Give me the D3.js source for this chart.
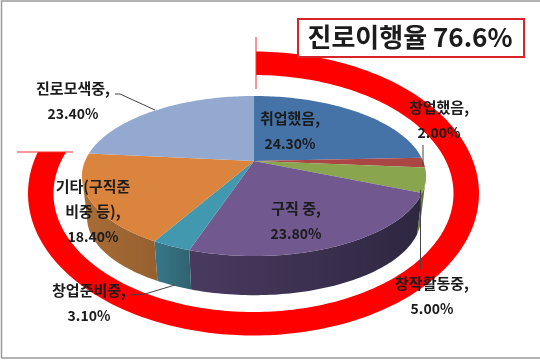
<!DOCTYPE html>
<html>
<head>
<meta charset="utf-8">
<script src="https://cdn.jsdelivr.net/npm/d3@7"></script>
<style>
  html, body { margin: 0; padding: 0; background: #fff; }
  svg { display: block; }
  text { font-family: "Noto Sans CJK KR", "Noto Sans", sans-serif; fill: #1a1a1a; }
</style>
</head>
<body>
<div id="chart"></div>
<script>
const categories = ["취업했음", "창업했음", "창작활동중", "구직 중", "창업준비중", "기타(구직준비중 등)", "진로모색중"];
const values = [24.3, 2.0, 5.0, 23.8, 3.1, 18.4, 23.4];
const topColors = ["#4572a7", "#aa4643", "#89a54e", "#71588f", "#4198af", "#db843d", "#93a9cf"];
const wallLeft = ["#3a5f8c", "#8e3a38", "#6f8a3d", "#4a3a60", "#37788a", "#a86c36", "#7a8dad"];
const wallRight = ["#3a5f8c", "#8e3a38", "#4d6030", "#2e2740", "#30626f", "#96602f", "#7a8dad"];
const rateTitle = "진로이행율 76.6%";

const width = 540, height = 361;
// perspective of the tilted pie, the top face is not centered on its apex
const tilt = 0.1875;
const top3d = {cx: 254, cy: 161, rx: 169, ry: 77.2};
const bottom3d = {cx: 254, cy: 203, rx: 164, ry: 74.9};

function project(face, t) {
    const d = 1 + tilt * Math.cos(t);
    return [face.cx + face.rx * Math.sin(t) / d, face.cy - face.ry * Math.cos(t) / d];
}

function sample(face, a, b) {
    const n = Math.max(2, Math.ceil(Math.abs(b - a) / 0.02));
    return d3.range(n + 1).map(i => project(face, a + (b - a) * i / n));
}

const svg = d3.select("#chart").append("svg").attr("width", width).attr("height", height);
const defs = svg.append("defs");
const line = d3.line();

// the reference is a slightly soft screenshot
defs.append("filter").attr("id", "soft")
    .append("feGaussianBlur").attr("stdDeviation", 0.35);

// frame
svg.append("rect").attr("width", width).attr("height", height).attr("fill", "#fff");
svg.append("path")
    .attr("d", "M1.5,358 V1 H540 M1.5,358 H540")
    .attr("fill", "none").attr("stroke", "#9a9a9a").attr("stroke-width", 1.5);

const arcs = d3.pie().sort(null).value(d => d)(values);

// side walls, only the part that faces the viewer
const wallFrom = Math.PI - Math.acos(tilt);
const wallTo = Math.PI + Math.acos(tilt);
const walls = svg.append("g");
arcs.forEach((d, i) => {
    const a = Math.max(d.startAngle, wallFrom);
    const b = Math.min(d.endAngle, wallTo);
    if (a >= b) return;
    const upper = sample(top3d, a, b);
    const lower = sample(bottom3d, b, a);
    const xs = upper.concat(lower).map(p => p[0]);
    const grad = defs.append("linearGradient")
        .attr("id", "wall" + i)
        .attr("gradientUnits", "userSpaceOnUse")
        .attr("x1", d3.min(xs)).attr("x2", d3.max(xs))
        .attr("y1", 0).attr("y2", 0);
    grad.append("stop").attr("offset", 0).attr("stop-color", wallLeft[i]);
    grad.append("stop").attr("offset", 1).attr("stop-color", wallRight[i]);
    walls.append("path")
        .attr("d", line(upper.concat(lower)) + "Z")
        .attr("fill", `url(#wall${i})`);
});

// top face
svg.append("g").selectAll("path")
    .data(arcs)
    .join("path")
    .attr("d", d => line([[top3d.cx, top3d.cy]].concat(sample(top3d, d.startAngle, d.endAngle))) + "Z")
    .attr("fill", (d, i) => topColors[i]);

// red ring with the thin cut lines at both ends
const ring = {cx: 253.5, cy: 193.5, outerX: 225.5, outerY: 142, innerX: 200, innerY: 118.5, startX: 256, endY: 152};
function ringEdge(rx, ry) {
    const a = Math.asin((ring.startX - ring.cx) / rx);
    const b = 2 * Math.PI - Math.acos((ring.cy - ring.endY) / ry);
    return d3.range(241).map(i => {
        const t = a + (b - a) * i / 240;
        return [ring.cx + rx * Math.sin(t), ring.cy - ry * Math.cos(t)];
    });
}
svg.append("path")
    .attr("d", line(ringEdge(ring.outerX, ring.outerY).concat(ringEdge(ring.innerX, ring.innerY).reverse())) + "Z")
    .attr("fill", "#ff0000");
svg.append("line").attr("x1", 256).attr("x2", 256).attr("y1", 37).attr("y2", 89)
    .attr("stroke", "#f03030").attr("stroke-width", 1);
svg.append("line").attr("x1", 17).attr("x2", 73).attr("y1", 152).attr("y2", 152)
    .attr("stroke", "#f03030").attr("stroke-width", 1);

// leader lines
const leaders = [
    [[115, 94], [120, 94], [155, 110]],
    [[423, 145], [423, 166]],
    [[420.5, 190], [420.5, 269]],
    [[130, 295], [145, 294], [175, 285]]
];
svg.append("g").selectAll("path")
    .data(leaders)
    .join("path")
    .attr("d", d => line(d))
    .attr("fill", "none")
    .attr("stroke", "#444")
    .attr("stroke-width", 1);

// data labels, split the way the picture wraps them
const labelLines = [
    ["취업했음,", "24.30%"],
    ["창업했음,", "2.00%"],
    ["창작활동중,", "5.00%"],
    ["구직 중,", "23.80%"],
    ["창업준비중,", "3.10%"],
    ["기타(구직준", "비중 등),", "18.40%"],
    ["진로모색중,", "23.40%"]
];
const labelX = [290, 439, 432, 296, 89, 93, 73];
const labelY = [119, 108, 284, 209, 291, 187, 89];
const labelStep = 25;

const labels = svg.append("g")
    .attr("text-anchor", "middle")
    .attr("font-weight", 700)
    .attr("filter", "url(#soft)");
labelLines.forEach((rows, i) => {
    rows.forEach((row, j) => {
        labels.append("text")
            .attr("x", labelX[i])
            .attr("y", labelY[i] + j * labelStep)
            .attr("dy", "0.35em")
            .attr("font-size", row.endsWith("%") ? 14 : 15)
            .text(row);
    });
});

// title box
svg.append("rect")
    .attr("x", 298).attr("y", 19)
    .attr("width", 226).attr("height", 38)
    .attr("fill", "#fff")
    .attr("stroke", "#d8232a")
    .attr("stroke-width", 2);
svg.append("text")
    .attr("x", 410).attr("y", 38)
    .attr("dy", "0.36em")
    .attr("text-anchor", "middle")
    .attr("font-size", 26)
    .attr("font-weight", 700)
    .attr("filter", "url(#soft)")
    .text(rateTitle);
</script>
</body>
</html>
